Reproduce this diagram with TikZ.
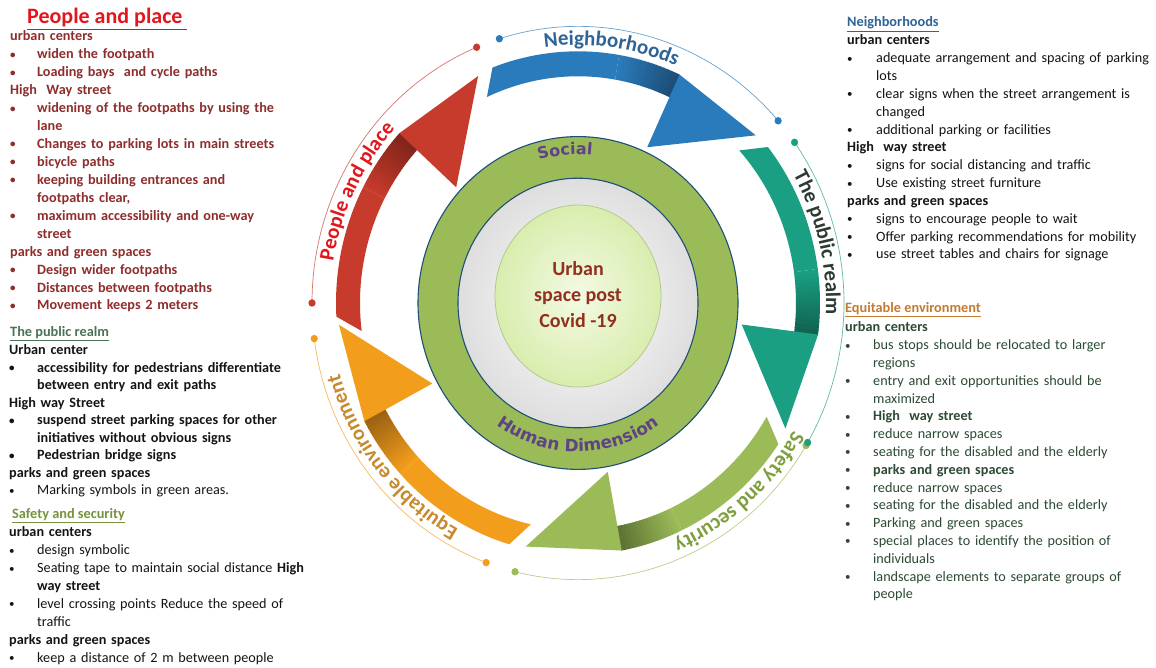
\documentclass[tikz,border=0pt]{standalone}
\usepackage{fontspec}
\setmainfont{Carlito}
\newfontfamily\dvs{DejaVu Sans}
\usetikzlibrary{decorations.text}

\definecolor{cRed}{HTML}{C63B2C}
\definecolor{cRedD}{HTML}{5A1810}
\definecolor{cBlue}{HTML}{2A7BBB}
\definecolor{cBlueD}{HTML}{15344F}
\definecolor{cTeal}{HTML}{1A9F82}
\definecolor{cTealD}{HTML}{0B4236}
\definecolor{cGreen}{HTML}{9BBB59}
\definecolor{cGreenD}{HTML}{3A4A1F}
\definecolor{cOrange}{HTML}{F29E1C}
\definecolor{cOrangeD}{HTML}{6A400E}
\definecolor{ringBlue}{HTML}{1F4E79}
\definecolor{discIn}{HTML}{F4FAE4}
\definecolor{discOut}{HTML}{D9EDAE}
\definecolor{discLine}{HTML}{B4C98C}
\definecolor{cPurple}{HTML}{5E4485}
\definecolor{cTxt}{HTML}{92301F}
\definecolor{labRed}{HTML}{E3161C}
\definecolor{labBlue}{HTML}{2F6496}
\definecolor{labDark}{HTML}{2C3A31}
\definecolor{labGreen}{HTML}{7F9F3F}
\definecolor{labOrange}{HTML}{C98A2E}
\definecolor{lRed}{HTML}{8F2D2D}
\definecolor{tRed}{HTML}{E3161C}
\definecolor{tPub}{HTML}{4B7355}
\definecolor{tBlack}{HTML}{151515}
\definecolor{tSafe}{HTML}{76923C}
\definecolor{tNeigh}{HTML}{2F6496}
\definecolor{tEq}{HTML}{C67A2E}
\definecolor{eqBody}{HTML}{2C4A34}

\newdimen\bind
\newcommand\bitem[1]{\makebox[\bind][l]{\raisebox{0.6pt}{\fontsize{11}{11}\selectfont\textbullet}}#1}
\newcommand\citem[1]{\hspace*{\bind}#1}

\newcommand\ringarrow[3]{%
  \pgfmathsetmacro\bA{#1}%
  \fill[#2] (\bA+45.5:242) arc[start angle=\bA+45.5, end angle=\bA+15, radius=242]
     -- (\bA+15:218) arc[start angle=\bA+15, end angle=\bA+49.5, radius=218] -- cycle;
  \foreach \i in {0,...,14}{%
    \pgfmathtruncatemacro\pp{100-4.5*\i}%
    \pgfmathsetmacro\aS{\bA+15-\i}%
    \pgfmathsetmacro\aE{\bA+15-\i-1.15}%
    \fill[#2!\pp!#3] (\aS:242) arc[start angle=\aS, end angle=\aE, radius=242]
       -- (\aE:218) arc[start angle=\aE, end angle=\aS, radius=218] -- cycle;
  }%
  \fill[#2] (\bA:242) -- (\bA-23:240) -- (\bA:165) -- cycle;
}
% #1 start angle, #2 end angle, #3 colour
\newcommand\thinarc[3]{%
  \draw[#3!70!white, line width=0.7pt] (#1:266) arc[start angle=#1, end angle=#2, radius=266];
  \fill[#3] (#1:266) circle[radius=3.6] (#2:266) circle[radius=3.6];
}
\newcommand\ringlabel[4]{%
  \pgfmathsetmacro\lA{#1+45}\pgfmathsetmacro\lB{#1-45}%
  \path[decorate, decoration={text along path, text align=center,
     text={|\fontsize{21}{21}\selectfont\bfseries\color{#3}|#4}}]
     (\lA:#2) arc[start angle=\lA, end angle=\lB, radius=#2];
}

\tikzset{
  blk/.style={anchor=base west, inner sep=0pt, text width=330pt, align=left},
  ttl/.style={anchor=base west, inner sep=0pt, font=\fontsize{14.3}{14.3}\selectfont\bfseries},
}

\begin{document}
\begin{tikzpicture}[x=1pt,y=1pt]
\fill[white] (0,0) rectangle (1156,668);
\useasboundingbox (0,0) rectangle (1156,668);

% ---------------- ring ----------------
\begin{scope}[shift={(578,365)}, yscale=1.04]
  \shade[inner color=white, outer color=black!13] (0,0) circle[radius=120];
  \fill[cGreen, even odd rule] (0,0) circle[radius=160] (0,0) circle[radius=120];
  \draw[ringBlue, line width=1.1pt] (0,0) circle[radius=160] (0,0) circle[radius=120];
  \shade[inner color=discIn, outer color=discOut] (0,6.7) ellipse[x radius=83, y radius=87.5];
  \draw[discLine, line width=0.8pt] (0,6.7) ellipse[x radius=83, y radius=87.5];

  \path[decorate, decoration={text along path, text align=center,
     text={|\dvs\fontsize{16}{16}\selectfont\bfseries\color{cPurple}|Social}}]
     (140:143) arc[start angle=140, end angle=50, radius=143];
  \path[decorate, decoration={text along path, text align=center,
     text={|\dvs\fontsize{17}{17}\selectfont\bfseries\color{cPurple}|Human Dimension}}]
     (-145:143) arc[start angle=-145, end angle=-35, radius=143];

  \ringarrow{137.6}{cRed}{cRedD}
  \ringarrow{65.2}{cBlue}{cBlueD}
  \ringarrow{-7.2}{cTeal}{cTealD}
  \ringarrow{-79.6}{cGreen}{cGreenD}
  \ringarrow{-152}{cOrange}{cOrangeD}

  \thinarc{180}{112.4}{cRed}
  \thinarc{107.2}{41.2}{cBlue}
  \thinarc{-31}{-103.7}{cGreen}
  \thinarc{35.5}{-30.3}{cTeal}
  \thinarc{-110.2}{-172.6}{cOrange}

  \ringlabel{153.8}{248}{labRed}{People and place}
  \ringlabel{82.4}{248}{labBlue}{Neighborhoods}
  \ringlabel{13.8}{248}{labDark}{The public realm}
  \ringlabel{-49}{248}{labGreen}{Safety and security}
  \ringlabel{-141}{248}{labOrange}{Equitable environment}
\end{scope}

\node[name=ctr, align=center, inner sep=0pt, text=cTxt,
      font=\fontsize{20}{26}\selectfont\bfseries] at (578,373) {Urban\\space post\\Covid -19};

% ---------------- left column ----------------
\node[name=t1, anchor=base west, inner sep=0pt, text=tRed,
      font=\fontsize{22}{22}\selectfont\bfseries] at (27,644) {\underline{People and place\ }};
\node[blk, name=b1, text=lRed, font=\fontsize{14.2}{17.93}\selectfont\bfseries] at (10,627) {\bind=27pt
urban centers\\
\bitem{widen the footpath}\\
\bitem{Loading bays\ \ and cycle paths}\\
High\ \ Way street\\
\bitem{widening of the footpaths by using the}\\
\citem{lane}\\
\bitem{Changes to parking lots in main streets}\\
\bitem{bicycle paths}\\
\bitem{keeping building entrances and}\\
\citem{footpaths clear,}\\
\bitem{maximum accessibility and one-way}\\
\citem{street}\\
parks and green spaces\\
\bitem{Design wider footpaths}\\
\bitem{Distances between footpaths}\\
\bitem{Movement keeps 2 meters}};

\node[ttl, name=t2, text=tPub] at (10,331) {\underline{The public realm}};
\node[blk, name=b2, text=tBlack, font=\fontsize{14.2}{17.5}\selectfont\bfseries] at (9,313) {\bind=28pt
Urban center\\
\bitem{accessibility for pedestrians differentiate}\\
\citem{between entry and exit paths}\\
High way Street\\
\bitem{suspend street parking spaces for other}\\
\citem{initiatives without obvious signs}\\
\bitem{Pedestrian bridge signs}\\
parks and green spaces\\
\mdseries\bitem{Marking symbols in green areas.}};

\node[ttl, name=t3, text=tSafe] at (12,149) {\underline{Safety and security}};
\node[blk, name=b3, text=tBlack, font=\fontsize{14.2}{17.86}\selectfont] at (9,131) {\bind=28pt
\textbf{urban centers}\\
\bitem{design symbolic}\\
\bitem{Seating tape to maintain social distance \textbf{High}}\\
\citem{\textbf{way street}}\\
\bitem{level crossing points Reduce the speed of}\\
\citem{traffic}\\
\textbf{parks and green spaces}\\
\bitem{keep a distance of 2 m between people}};

% ---------------- right column ----------------
\node[ttl, name=t4, text=tNeigh] at (847,641) {\underline{Neighborhoods}};
\node[blk, name=b4, text=tBlack, font=\fontsize{14.2}{17.83}\selectfont] at (847,623) {\bind=29pt
\textbf{urban centers}\\
\bitem{adequate arrangement and spacing of parking}\\
\citem{lots}\\
\bitem{clear signs when the street arrangement is}\\
\citem{changed}\\
\bitem{additional parking or facilities}\\
\textbf{High\ \ way street}\\
\bitem{signs for social distancing and traffic}\\
\bitem{Use existing street furniture}\\
\textbf{parks and green spaces}\\
\bitem{signs to encourage people to wait}\\
\bitem{Offer parking recommendations for mobility}\\
\bitem{use street tables and chairs for signage}};

\node[ttl, name=t5, text=tEq] at (845,355) {\underline{Equitable environment}};
\node[blk, name=b5, text=eqBody, font=\fontsize{14.2}{17.8}\selectfont] at (845,336) {\bind=28pt
\textbf{urban centers}\\
\bitem{bus stops should be relocated to larger}\\
\citem{regions}\\
\bitem{entry and exit opportunities should be}\\
\citem{maximized}\\
\bitem{\textbf{High\ \ way street}}\\
\bitem{reduce narrow spaces}\\
\bitem{seating for the disabled and the elderly}\\
\bitem{\textbf{parks and green spaces}}\\
\bitem{reduce narrow spaces}\\
\bitem{seating for the disabled and the elderly}\\
\bitem{Parking and green spaces}\\
\bitem{special places to identify the position of}\\
\citem{individuals}\\
\bitem{landscape elements to separate groups of}\\
\citem{people}};
\end{tikzpicture}
\end{document}
